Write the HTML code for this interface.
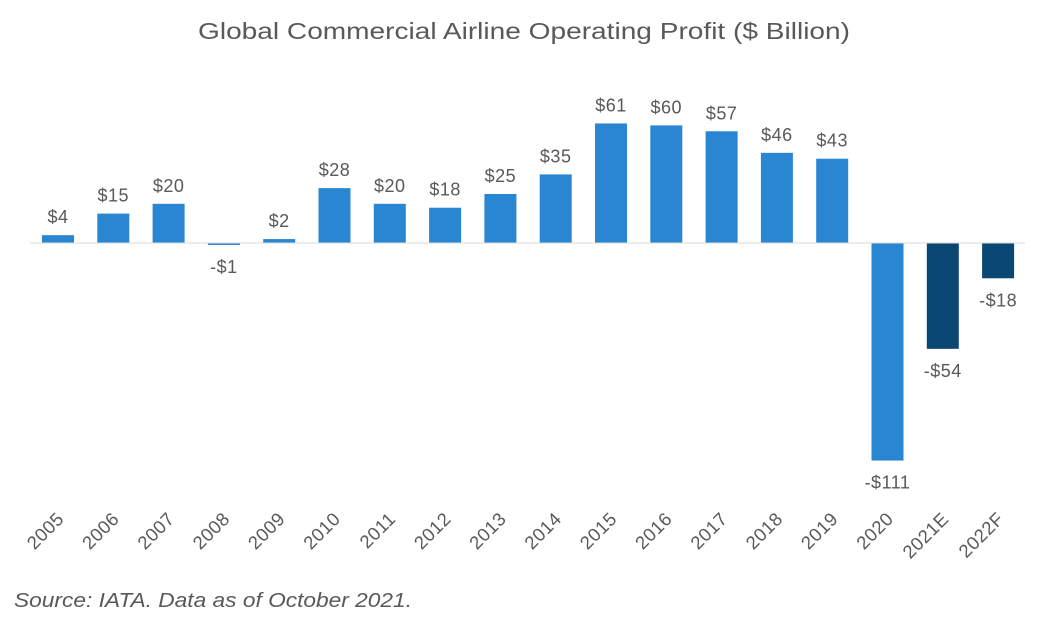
<!DOCTYPE html>
<html><head><meta charset="utf-8"><style>
body{margin:0;background:#fff;}
svg{display:block;font-family:"Liberation Sans",sans-serif;}
</style></head><body>
<svg id="chart" width="1048" height="625">
<text x="198" y="39" textLength="652" lengthAdjust="spacingAndGlyphs" font-size="23" fill="#595959">Global Commercial Airline Operating Profit ($ Billion)</text>
<g id="bars"></g>
<line x1="30" x2="1025" y1="243" y2="243" stroke="#d9d9d9" stroke-width="1"/>
<text x="14" y="607" textLength="398" lengthAdjust="spacingAndGlyphs" font-size="20" font-style="italic" fill="#595959">Source: IATA. Data as of October 2021.</text>
</svg>
<script>
const categories=["2005","2006","2007","2008","2009","2010","2011","2012","2013","2014","2015","2016","2017","2018","2019","2020","2021E","2022F"];
const values=[4,15,20,-1,2,28,20,18,25,35,61,60,57,46,43,-111,-54,-18];
const valueLabels=["$4","$15","$20","-$1","$2","$28","$20","$18","$25","$35","$61","$60","$57","$46","$43","-$111","-$54","-$18"];
const forecast=[false,false,false,false,false,false,false,false,false,false,false,false,false,false,false,false,true,true];
const NS="http://www.w3.org/2000/svg";
const zeroY=243, scale=1.96, x0=58, step=55.3, bw=32;
const xPos=i=>x0+i*step;
const yPos=v=>zeroY-v*scale;
const g=document.getElementById('bars');
categories.forEach((c,i)=>{
  const v=values[i];
  const r=document.createElementNS(NS,'rect');
  const y=Math.min(yPos(v),zeroY);
  r.setAttribute('x',xPos(i)-bw/2);
  r.setAttribute('y',y);
  r.setAttribute('width',bw);
  r.setAttribute('height',Math.max(Math.abs(v*scale),1));
  r.setAttribute('fill',forecast[i]?'#0b4775':'#2986d3');
  
  
  g.appendChild(r);
  const t=document.createElementNS(NS,'text');
  t.setAttribute('x',xPos(i));
  t.setAttribute('y',v>=0?yPos(v)-12:yPos(v)+28);
  t.setAttribute('text-anchor','middle');
  t.setAttribute('font-size','18');
  t.setAttribute('letter-spacing','0.5');
  t.setAttribute('fill','#595959');
  t.textContent=valueLabels[i];
  
  
  g.appendChild(t);
  const lx=xPos(i)+7, ly=520;
  const l=document.createElementNS(NS,'text');
  l.setAttribute('x',lx);
  l.setAttribute('y',ly);
  l.setAttribute('text-anchor','end');
  l.setAttribute('font-size','18.5');
  l.setAttribute('letter-spacing','0.5');
  l.setAttribute('fill','#595959');
  l.setAttribute('transform','rotate(-45 '+lx+' '+ly+')');
  l.textContent=c;
  
  
  g.appendChild(l);
});
</script>
</body></html>
